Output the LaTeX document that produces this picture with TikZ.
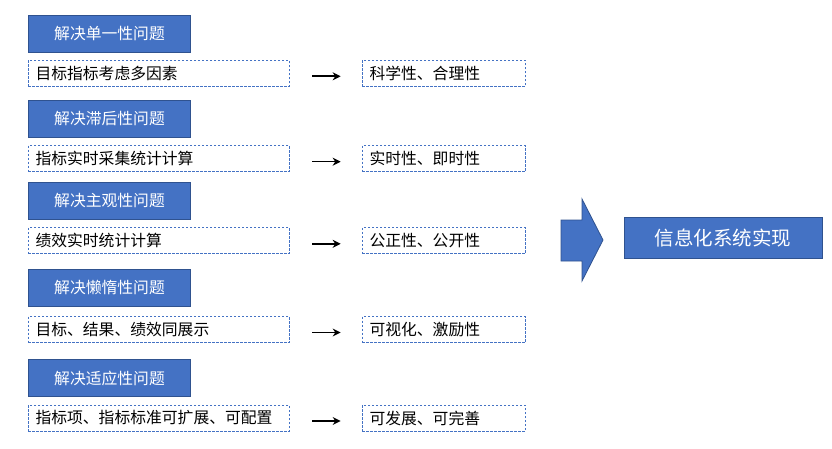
\documentclass[tikz,border=0pt]{standalone}
\usepackage{fontspec}
\setmainfont{Noto Sans CJK SC}
\usetikzlibrary{arrows.meta}
\definecolor{hdrfill}{HTML}{4472C4}
\definecolor{hdrdraw}{HTML}{2F528F}
\definecolor{dashc}{HTML}{4472C4}
\begin{document}
\begin{tikzpicture}[x=1pt,y=-1pt,
  hdr/.style={draw=hdrdraw,line width=0.8pt,fill=hdrfill,text=white,minimum width=162pt,minimum height=37pt,inner sep=0pt,font=\fontsize{15.8}{18}\selectfont},
  lbox/.style={draw=dashc,dashed,dash pattern=on 2.5pt off 1.5pt,line width=0.7pt,minimum width=261pt,minimum height=26pt,text width=246pt,align=left,inner xsep=7.5pt,inner ysep=0pt,font=\fontsize{15.8}{18}\selectfont},
  rbox/.style={draw=dashc,dashed,dash pattern=on 2.5pt off 1.5pt,line width=0.7pt,minimum width=163pt,minimum height=26pt,text width=148pt,align=left,inner xsep=7.5pt,inner ysep=0pt,font=\fontsize{15.8}{18}\selectfont},
  conn/.style={-{Stealth[length=8pt,width=8pt]},line width=1.6pt,shorten <=23pt,shorten >=21pt}]
\useasboundingbox (0,0) rectangle (832,449);
\node[hdr] (h1) at (109.5,33.5) {解决单一性问题};
\node[hdr] (h2) at (109.5,118.5) {解决滞后性问题};
\node[hdr] (h3) at (109.5,200.7) {解决主观性问题};
\node[hdr] (h4) at (109.5,288) {解决懒惰性问题};
\node[hdr] (h5) at (109.5,378) {解决适应性问题};
\node[lbox] (l1) at (158.5,73.3) {目标指标考虑多因素};
\node[lbox] (l2) at (158.5,158.7) {指标实时采集统计计算};
\node[lbox] (l3) at (158.5,240.8) {绩效实时统计计算};
\node[lbox] (l4) at (158.5,329.5) {目标、结果、绩效同展示};
\node[lbox] (l5) at (158.5,418) {指标项、指标标准可扩展、可配置};
\node[rbox] (r1) at (443.5,73.3) {科学性、合理性};
\node[rbox] (r2) at (443.5,158.7) {实时性、即时性};
\node[rbox] (r3) at (443.5,240.8) {公正性、公开性};
\node[rbox] (r4) at (443.5,329.5) {可视化、激励性};
\node[rbox] (r5) at (443.5,418) {可发展、可完善};
\foreach \i in {1,...,5} {\draw[conn] ([yshift=-3pt]l\i.east) -- ([yshift=-3pt]r\i.west);}
\draw[draw=hdrdraw,line width=0.8pt,fill=hdrfill] (561,220) -- (582,220) -- (582,199) -- (603,240) -- (582,281) -- (582,261) -- (561,261) -- cycle;
\node[draw=hdrdraw,line width=0.8pt,fill=hdrfill,text=white,minimum width=198pt,minimum height=41pt,inner sep=0pt,font=\fontsize{19.5}{23}\selectfont] (sys) at (723,237.7) {信息化系统实现};
\end{tikzpicture}
\end{document}
